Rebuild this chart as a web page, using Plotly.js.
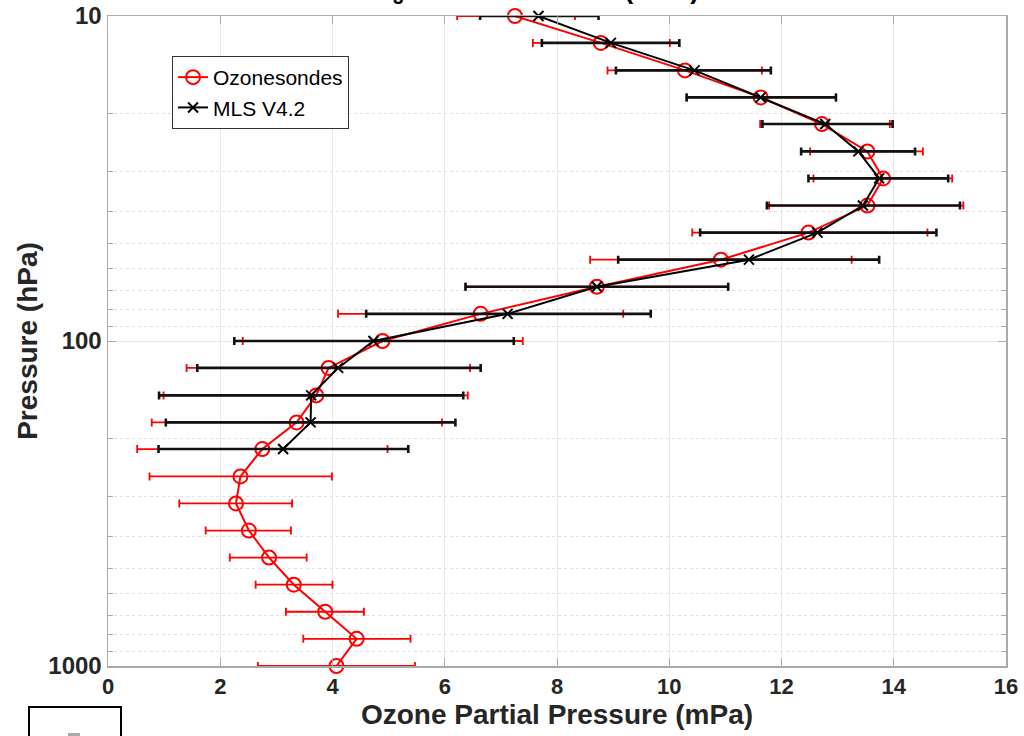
<!DOCTYPE html>
<html>
<head>
<meta charset="utf-8">
<script src="https://cdn.plot.ly/plotly-3.0.1.min.js"></script>
<style>html,body{margin:0;padding:0;background:#fff}#chart{width:1024px;height:736px}</style>
</head>
<body>
<div id="chart"></div>
<script>
// Pressure levels (hPa)
const pressure = [10, 12.1, 14.7, 17.8, 21.5, 26.1, 31.6, 38.3, 46.4, 56.2, 68.1, 82.5, 100,
                  121, 147, 178, 215, 261, 316, 383, 464, 562, 681, 825, 1000];
// Ozonesondes mean and error bounds (mPa)
const sondeMean  = [7.25, 8.78, 10.28, 11.63, 12.72, 13.53, 13.81, 13.53, 12.48, 10.92, 8.71, 6.64, 4.89,
                    3.93, 3.71, 3.36, 2.75, 2.36, 2.28, 2.51, 2.87, 3.31, 3.87, 4.43, 4.07];
const sondeLow   = [6.22, 7.57, 8.90, 10.31, 11.62, 12.51, 12.57, 11.78, 10.41, 8.59, 6.37, 4.10, 2.40,
                    1.40, 0.99, 0.78, 0.52, 0.74, 1.27, 1.74, 2.17, 2.63, 3.17, 3.48, 2.67];
const sondeHigh  = [8.32, 10.01, 11.65, 12.97, 13.93, 14.52, 15.04, 15.24, 14.60, 13.25, 11.05, 9.18, 7.39,
                    6.45, 6.41, 5.95, 4.98, 3.99, 3.28, 3.26, 3.54, 4.00, 4.56, 5.39, 5.47];
// MLS V4.2 mean and error bounds (mPa), levels 10 - 215 hPa
const mlsPressure = [10, 12.1, 14.7, 17.8, 21.5, 26.1, 31.6, 38.3, 46.4, 56.2, 68.1, 82.5, 100,
                     121, 147, 178, 215];
const mlsMean  = [7.67, 8.96, 10.45, 11.63, 12.78, 13.37, 13.74, 13.45, 12.64, 11.42, 8.71, 7.12, 4.73,
                  4.10, 3.62, 3.61, 3.12];
const mlsLow   = [6.63, 7.73, 9.05, 10.31, 11.66, 12.35, 12.48, 11.74, 10.55, 9.09, 6.37, 4.60, 2.25,
                  1.59, 0.91, 1.03, 0.90];
const mlsHigh  = [8.74, 10.18, 11.81, 12.97, 13.98, 14.38, 14.97, 15.18, 14.76, 13.74, 11.05, 9.67, 7.23,
                  6.64, 6.33, 6.19, 5.35];
const xTicks = [0, 2, 4, 6, 8, 10, 12, 14, 16];
const yTicks = [10, 100, 1000];

const plus  = (hi, m) => hi.map((v, i) => v - m[i]);
const minus = (lo, m) => lo.map((v, i) => m[i] - v);

const traces = [
  {
    x: sondeMean, y: pressure, name: 'Ozonesondes', type: 'scatter', mode: 'lines+markers',
    line: {color: '#ff0000', width: 2},
    marker: {symbol: 'circle-open', size: 14, color: '#ff0000', line: {width: 2}},
    error_x: {type: 'data', symmetric: false, array: plus(sondeHigh, sondeMean),
              arrayminus: minus(sondeLow, sondeMean), color: '#ff0000', thickness: 1.8, width: 4},
    cliponaxis: false
  },
  {
    x: mlsMean, y: mlsPressure, name: 'MLS V4.2', type: 'scatter', mode: 'lines+markers',
    line: {color: '#000000', width: 2},
    marker: {symbol: 'x-thin-open', size: 10, color: '#000000', line: {width: 2, color: '#000000'}},
    error_x: {type: 'data', symmetric: false, array: plus(mlsHigh, mlsMean),
              arrayminus: minus(mlsLow, mlsMean), color: '#111111', thickness: 2.6, width: 4},
    cliponaxis: false
  }
];

const F = 'Liberation Sans, Arial, Helvetica, sans-serif';
const layout = {
  width: 1024, height: 736,
  margin: {l: 108, r: 18, t: 16, b: 70},
  paper_bgcolor: '#ffffff', plot_bgcolor: '#ffffff',
  showlegend: true,
  legend: {
    x: 0.0713, y: 0.9385, xanchor: 'left', yanchor: 'top',
    bgcolor: '#ffffff', bordercolor: '#333333', borderwidth: 1,
    font: {family: F, size: 21, color: '#000'},
    itemwidth: 30, tracegroupgap: 0
  },
  xaxis: {
    range: [0, 16], tickvals: xTicks, ticktext: xTicks.map(String),
    ticks: 'inside', ticklen: 8, tickcolor: '#aaaaaa', tickwidth: 1,
    showline: true, linecolor: '#aaaaaa', linewidth: 1.5, mirror: 'ticks',
    showgrid: true, gridcolor: '#e8e8e8', gridwidth: 1, zeroline: false,
    tickfont: {family: F, size: 22, color: '#262626', weight: 'bold'},
    title: {text: '<b>Ozone Partial Pressure (mPa)</b>', font: {family: F, size: 28, color: '#262626'}, standoff: 6}
  },
  yaxis: {
    type: 'log', range: [3, 1], tickvals: yTicks, ticktext: yTicks.map(String),
    ticks: 'inside', ticklen: 8, tickcolor: '#aaaaaa', tickwidth: 1,
    showline: true, linecolor: '#aaaaaa', linewidth: 1.5, mirror: 'ticks',
    showgrid: true, gridcolor: '#e8e8e8', gridwidth: 1, zeroline: false,
    minor: {dtick: 'D1', ticks: 'inside', ticklen: 5, tickcolor: '#aaaaaa', showgrid: true,
            gridcolor: '#e0e0e0', griddash: 'dot', gridwidth: 1},
    tickfont: {family: F, size: 24, color: '#262626', weight: 'bold'},
    title: {text: '<b>Pressure (hPa)</b>', font: {family: F, size: 28, color: '#262626'}, standoff: 2}
  },
  annotations: [
    {xref: 'paper', yref: 'paper', x: (370 - 108) / 898, y: 1 + (16 - 10) / 650,
     xanchor: 'left', yanchor: 'bottom', showarrow: false,
     text: '<b>O<sub>3</sub> Partial Pressure (mPa)</b>',
     font: {family: F, size: 27, color: '#000'}}
  ],
  shapes: [
    {type: 'rect', xref: 'paper', yref: 'paper',
     x0: (29 - 108) / 898, x1: (121 - 108) / 898, y0: (666 - 707) / 650, y1: (666 - 745) / 650,
     line: {color: '#000', width: 2}, fillcolor: 'rgba(0,0,0,0)'},
    {type: 'rect', xref: 'paper', yref: 'paper',
     x0: (68 - 108) / 898, x1: (80 - 108) / 898, y0: (666 - 733) / 650, y1: (666 - 740) / 650,
     line: {width: 0}, fillcolor: '#aaaaaa'}
  ]
};

Plotly.newPlot('chart', traces, layout, {displayModeBar: false, staticPlot: true});
</script>
</body>
</html>
